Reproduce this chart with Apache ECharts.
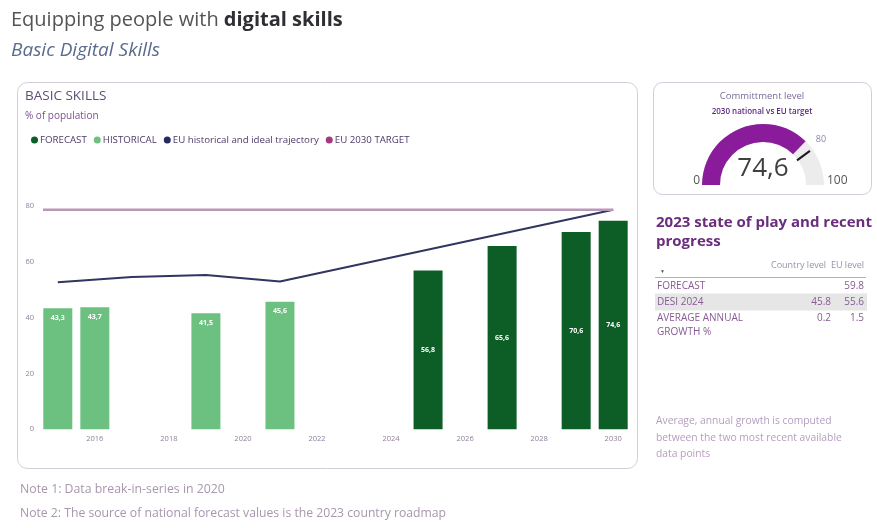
<!DOCTYPE html>
<html>
<head>
<meta charset="utf-8">
<script src="https://cdn.jsdelivr.net/npm/echarts@6/dist/echarts.min.js"></script>
<style>
  html, body { margin: 0; padding: 0; background: #ffffff; }
  #chart { width: 877px; height: 528px; }
</style>
</head>
<body>
<div id="chart"></div>
<script>
// Basic digital skills, share of population (%)
const historicalYears = [2015, 2016, 2019, 2021];
const historicalValues = [43.3, 43.7, 41.5, 45.6];
const forecastYears = [2025, 2027, 2029, 2030];
const forecastValues = [56.8, 65.6, 70.6, 74.6];

// EU historical values and ideal trajectory towards the 2030 target
const euTrajectoryYears = [2015, 2017, 2019, 2021, 2030];
const euTrajectoryValues = [53.6, 55.5, 56.2, 53.9, 80];
const euTargetYear = 2030;
const euTargetValue = 80;

// Axis ticks
const yearTicks = [2016, 2018, 2020, 2022, 2024, 2026, 2028, 2030];
const percentTicks = [0, 20, 40, 60, 80];

// Commitment gauge: national 2030 value against EU target
const gaugeMin = 0;
const gaugeMax = 100;
const nationalTarget2030 = forecastValues[forecastValues.length - 1];

// 2023 state of play table
const tableRows = ['FORECAST', 'DESI 2024', 'AVERAGE ANNUAL\nGROWTH %'];
const countryLevel = [null, 45.8, 0.2];
const euLevel = [59.8, 55.6, 1.5];

// ---- layout ----
const FONT = "'Open Sans', 'Noto Sans', sans-serif";
const X_MIN = 2014.6, X_MAX = 2030.4;
const GAUGE_CX = 763, GAUGE_CY = 185, GAUGE_R = 61, GAUGE_W = 18;

const fmtComma = v => v.toFixed(1).replace('.', ',');
const pairs = (xs, ys) => xs.map((x, i) => [x, ys[i]]);

const chart = echarts.init(document.getElementById('chart'), null, { renderer: 'canvas' });

const TABLE_TEXT = '#875a93';

// static text and panels
const graphics = [
  { type: 'rect', z: 0, shape: { x: 17.5, y: 82.5, width: 620, height: 386, r: 10 },
    style: { fill: '#ffffff', stroke: '#d2cdd8', lineWidth: 1 } },
  { type: 'rect', z: 0, shape: { x: 653.5, y: 82.5, width: 218, height: 112, r: 9 },
    style: { fill: '#ffffff', stroke: '#d2cdd8', lineWidth: 1 } },
  { type: 'text', x: 11, y: 20, style: {
      text: '{a|Equipping people with }{b|digital skills}', verticalAlign: 'middle',
      rich: {
        a: { fontFamily: FONT, fontSize: 20, fill: '#545454' },
        b: { fontFamily: FONT, fontSize: 20, fontWeight: 'bold', fill: '#2e2e33' }
      } } },
  { type: 'text', x: 11, y: 51, style: { text: 'Basic Digital Skills', fontFamily: FONT, fontSize: 19,
      fontStyle: 'italic', fill: '#5b6b8c', verticalAlign: 'middle' } },
  { type: 'text', x: 25, y: 96, style: { text: 'BASIC SKILLS', fontFamily: FONT, fontSize: 13.5,
      fill: '#5f4d75', verticalAlign: 'middle' } },
  { type: 'text', x: 25, y: 116, style: { text: '% of population', fontFamily: FONT, fontSize: 10,
      fill: '#7f4f90', verticalAlign: 'middle' } },
  { type: 'text', x: 762, y: 96, style: { text: 'Committment level', fontFamily: FONT, fontSize: 9.5,
      fill: '#7b6c99', align: 'center', verticalAlign: 'middle' } },
  { type: 'text', x: 762, y: 112, style: { text: '2030 national vs EU target', fontFamily: FONT, fontSize: 8,
      fontWeight: 600, fill: '#5b2a7e', align: 'center', verticalAlign: 'middle' } },
  { type: 'text', x: GAUGE_CX - GAUGE_R - 2, y: GAUGE_CY - 4, style: { text: String(gaugeMin), fontFamily: FONT,
      fontSize: 12, fill: '#555555', align: 'right', verticalAlign: 'middle' } },
  { type: 'text', x: GAUGE_CX + GAUGE_R + 3, y: GAUGE_CY - 4, style: { text: String(gaugeMax), fontFamily: FONT,
      fontSize: 12, fill: '#555555', align: 'left', verticalAlign: 'middle' } },
  { type: 'text', x: 656, y: 232, style: { text: '2023 state of play and recent\nprogress', fontFamily: FONT,
      fontSize: 15, fontWeight: 'bold', fill: '#6a2d7d', lineHeight: 19, verticalAlign: 'middle' } },
  { type: 'text', x: 826, y: 265, style: { text: 'Country level', fontFamily: FONT, fontSize: 9,
      fill: '#9c8fa8', align: 'right', verticalAlign: 'middle' } },
  { type: 'text', x: 864, y: 265, style: { text: 'EU level', fontFamily: FONT, fontSize: 9,
      fill: '#9c8fa8', align: 'right', verticalAlign: 'middle' } },
  { type: 'text', x: 660, y: 272, style: { text: '\u25BC', fontFamily: FONT, fontSize: 5,
      fill: '#555555', verticalAlign: 'middle' } },
  { type: 'line', shape: { x1: 655, y1: 277.5, x2: 866, y2: 277.5 },
    style: { stroke: '#a3b9c0', lineWidth: 1 } },
  { type: 'text', x: 656, y: 438, style: {
      text: 'Average, annual growth is computed\nbetween the two most recent available\ndata points',
      fontFamily: FONT, fontSize: 10.3, fill: '#b69dbf', lineHeight: 16.5, verticalAlign: 'middle' } },
  { type: 'text', x: 20, y: 489, style: { text: 'Note 1: Data break-in-series in 2020', fontFamily: FONT,
      fontSize: 12.3, fill: '#a796ad', verticalAlign: 'middle' } },
  { type: 'text', x: 20, y: 514, style: {
      text: 'Note 2: The source of national forecast values is the 2023 country roadmap', fontFamily: FONT,
      fontSize: 12.2, fill: '#a796ad', verticalAlign: 'middle' } }
];

// table rows
const ROW_Y0 = 286, ROW_STEP = 16;
tableRows.forEach((label, i) => {
  const y = ROW_Y0 + i * ROW_STEP;
  if (i === 1) {
    graphics.push({ type: 'rect', z: 0, shape: { x: 655, y: y - 8.5, width: 212, height: 17 },
      style: { fill: '#e6e6e6' } });
  }
  graphics.push({ type: 'text', z: 2, x: 657, y: y - 6.5, style: { text: label, fontFamily: FONT, fontSize: 10,
    fill: TABLE_TEXT, lineHeight: 13.5, verticalAlign: 'top' } });
  if (countryLevel[i] !== null) {
    graphics.push({ type: 'text', z: 2, x: 831, y: y, style: { text: countryLevel[i].toFixed(1),
      fontFamily: FONT, fontSize: 10, fill: TABLE_TEXT, align: 'right', verticalAlign: 'middle' } });
  }
  if (euLevel[i] !== null) {
    graphics.push({ type: 'text', z: 2, x: 864, y: y, style: { text: euLevel[i].toFixed(1),
      fontFamily: FONT, fontSize: 10, fill: TABLE_TEXT, align: 'right', verticalAlign: 'middle' } });
  }
});

const option = {
  animation: false,
  textStyle: { fontFamily: FONT },
  graphic: graphics,
  legend: {
    left: 26, top: 130, icon: 'circle', itemWidth: 7, itemHeight: 7, itemGap: 7,
    textStyle: { fontSize: 9.7, color: '#4b3a68', padding: [0, 0, 0, -3] },
    data: ['FORECAST', 'HISTORICAL', 'EU historical and ideal trajectory', 'EU 2030 TARGET']
  },
  grid: { left: 43, top: 205.7, width: 585, height: 223.6, containLabel: false },
  xAxis: {
    type: 'value', min: X_MIN, max: X_MAX,
    axisLine: { show: false }, axisTick: { show: false }, splitLine: { show: false },
    axisLabel: { customValues: yearTicks, fontSize: 7.5, color: '#8d7f99', margin: 6,
      formatter: v => String(v) }
  },
  yAxis: [
    { type: 'value', min: 0, max: 80, interval: 20,
      axisLine: { show: false }, axisTick: { show: false }, splitLine: { show: false },
      axisLabel: { customValues: percentTicks, fontSize: 7.5, color: '#8d7f99', margin: 9 } },
    { type: 'value', min: 0, max: 81.5, show: false }
  ],
  series: [
    {
      name: 'HISTORICAL', type: 'bar', barWidth: 29, barGap: '-100%',
      itemStyle: { color: '#6cc080' },
      label: { show: true, position: 'insideTop', distance: 6, fontSize: 7, fontWeight: 'bold',
        color: '#ffffff', formatter: p => fmtComma(p.value[1]) },
      data: pairs(historicalYears, historicalValues)
    },
    {
      name: 'FORECAST', type: 'bar', barWidth: 29, barGap: '-100%',
      itemStyle: { color: '#0c5e26' },
      label: { show: true, position: 'inside', fontSize: 7, fontWeight: 'bold',
        color: '#ffffff', formatter: p => fmtComma(p.value[1]) },
      data: pairs(forecastYears, forecastValues)
    },
    {
      name: 'EU historical and ideal trajectory', type: 'line', yAxisIndex: 1,
      symbol: 'none', itemStyle: { color: '#262a5e' },
      lineStyle: { color: '#31355f', width: 2 },
      data: pairs(euTrajectoryYears, euTrajectoryValues)
    },
    {
      name: 'EU 2030 TARGET', type: 'line', yAxisIndex: 1,
      symbol: 'none', itemStyle: { color: '#a4387f' },
      lineStyle: { color: '#b898b8', width: 2.5 },
      data: [[X_MIN, euTargetValue], [euTargetYear, euTargetValue]]
    },
    {
      type: 'gauge', center: [GAUGE_CX, GAUGE_CY], radius: GAUGE_R,
      startAngle: 180, endAngle: 0, min: gaugeMin, max: gaugeMax, splitNumber: 5,
      progress: { show: true, width: GAUGE_W, itemStyle: { color: '#8a1c9b' } },
      axisLine: { lineStyle: { width: GAUGE_W, color: [[1, '#ececec']] } },
      pointer: { show: false }, anchor: { show: false },
      axisTick: { show: false }, splitLine: { show: false }, axisLabel: { show: false },
      title: { show: false },
      detail: { offsetCenter: [0, -16], fontSize: 26, fontWeight: 'normal', fontFamily: FONT, color: '#404040',
        formatter: v => fmtComma(v) },
      data: [{ value: nationalTarget2030 }]
    },
    {
      type: 'gauge', center: [GAUGE_CX, GAUGE_CY], radius: GAUGE_R,
      startAngle: 180, endAngle: 0, min: gaugeMin, max: gaugeMax, splitNumber: 5,
      progress: { show: false }, axisLine: { show: false, lineStyle: { width: 0 } },
      axisTick: { show: false }, splitLine: { show: false, length: 0, distance: 0 },
      axisLabel: { show: true, distance: -17, fontSize: 9, color: '#8f80ab',
        formatter: v => (v === euTargetValue ? String(v) : '') },
      pointer: { show: true, length: 58, width: 2.2,
        icon: 'path://M0,0L10,0L10,16L0,16Z M4.9,57.9L5.1,57.9L5.1,58L4.9,58Z',
        itemStyle: { color: '#1e1e1e' } },
      anchor: { show: false }, title: { show: false }, detail: { show: false },
      data: [{ value: euTargetValue }]
    }
  ]
};

chart.setOption(option);
</script>
</body>
</html>
